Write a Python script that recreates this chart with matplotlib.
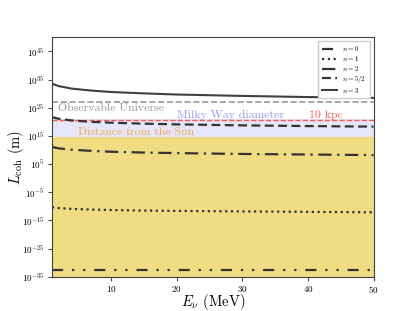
import numpy as np
import matplotlib
matplotlib.use('Agg')
import matplotlib.pyplot as plt

plt.rcParams['mathtext.fontset'] = 'cm'
plt.rcParams['font.family'] = 'serif'
plt.rcParams['font.serif'] = ['cmr10', 'DejaVu Serif']
plt.rcParams['axes.unicode_minus'] = False
plt.rcParams['axes.formatter.use_mathtext'] = True

# neutrino energy (MeV) and log10 of coherence length (m)
E_nu = [1, 2, 4, 7, 10, 15, 20, 30, 40, 50]
logL_n0 = [-32.7, -32.7, -32.7, -32.7, -32.7, -32.7, -32.7, -32.7, -32.7, -32.7]
logL_n1 = [-10.3, -10.6, -10.9, -11.15, -11.3, -11.5, -11.6, -11.8, -11.95, -12.1]
logL_n2 = [11.1, 10.6, 10.1, 9.7, 9.4, 9.1, 8.9, 8.6, 8.4, 8.2]
logL_n52 = [21.7, 21.1, 20.5, 20.0, 19.7, 19.35, 19.1, 18.75, 18.5, 18.3]
logL_n3 = [33.6, 32.7, 31.8, 31.1, 30.6, 30.1, 29.7, 29.2, 28.8, 28.5]

labels = ['$n=0$', '$n=1$', '$n=2$', '$n=5/2$', '$n=3$']

# reference distances (m)
L_universe = 8.8e26
L_milkyway = 9.5e20
L_10kpc = 3.086e20
L_sun = 3.6e14

fig, ax = plt.subplots(figsize=(4.15, 3.11), dpi=100)

ax.axhspan(1e-35, L_sun, color='#f0dc82', lw=0, zorder=0)
ax.axhspan(L_sun, L_milkyway, color='#e6e6fa', lw=0, zorder=0)
ax.axhline(L_universe, color='0.6', ls='--', lw=1.2, zorder=1)
ax.axhline(L_10kpc, color='#ff5555', ls='--', lw=1.0, zorder=1)

c = '0.2'
E = np.array(E_nu)
ax.plot(E, 10**np.array(logL_n0), color=c, lw=1.6, ls=(0, (5, 4, 1, 4, 1, 4)), label=labels[0])
ax.plot(E, 10**np.array(logL_n1), color=c, lw=1.6, ls=(0, (1, 1.6)), label=labels[1])
ax.plot(E, 10**np.array(logL_n2), color=c, lw=1.6, ls=(0, (6, 2.5, 1, 2.5)), label=labels[2])
ax.plot(E, 10**np.array(logL_n52), color=c, lw=1.6, ls=(0, (4, 2)), label=labels[3])
ax.plot(E, 10**np.array(logL_n3), color='0.25', lw=1.5, ls='-', label=labels[4])

ax.text(1.9, 10**24.7, 'Observable Universe', color='0.6', fontsize=8.5, va='center')
ax.text(20, 10**22.4, 'Milky Way diameter', color='#9999ee', fontsize=8.5, va='center')
ax.text(40.1, 10**22.4, '10 kpc', color='#ff5c5c', fontsize=8.5, va='center')
ax.text(5.0, 10**16.4, 'Distance from the Sun', color='#f5a742', fontsize=8.5, va='center')

ax.set_yscale('log')
ax.set_xlim(1, 50)
ax.set_ylim(1e-35, 1e50)
ax.set_yticks([10.0**k for k in range(-35, 50, 10)])
ax.minorticks_off()
ax.set_xticks([10, 20, 30, 40, 50])
ax.tick_params(labelsize=6.5, color='0.3', length=3)
ax.tick_params(axis='x', pad=2)
ax.tick_params(axis='y', pad=2.5)
for s in ax.spines.values():
    s.set_color('0.25')

ax.set_xlabel(r'$E_\nu$ (MeV)', fontsize=10.5)
ax.set_ylabel(r'$L_{\rm coh}$ (m)', fontsize=10.5)
ax.xaxis.set_label_coords(0.5, -0.065)
ax.yaxis.set_label_coords(-0.082, 0.5)

ax.legend(loc='upper right', fontsize=5, handlelength=2.2, labelspacing=0.12,
          fancybox=False, edgecolor='0.8', framealpha=1, borderpad=0.5)

fig.savefig('out.png', dpi=100)
